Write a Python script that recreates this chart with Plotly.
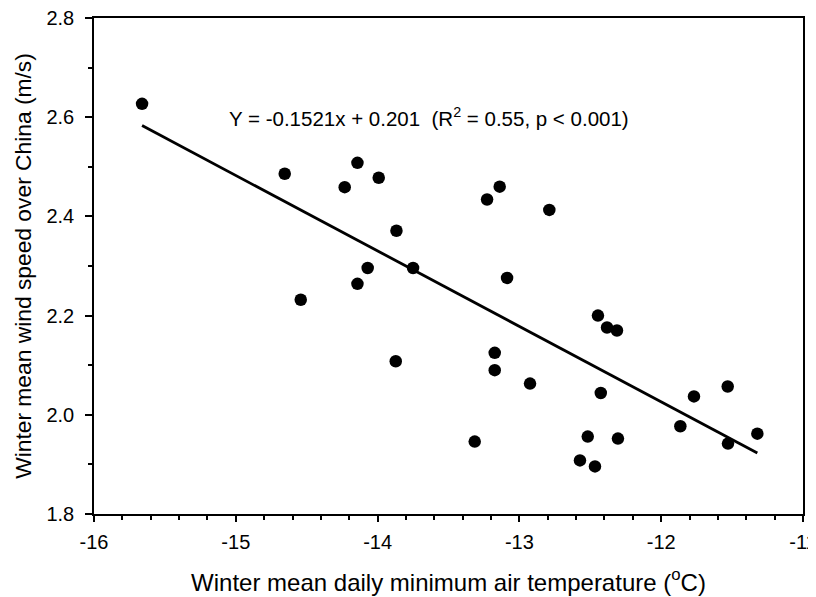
import plotly.graph_objects as go

temp = [-15.661, -14.655, -14.142, -14.232, -13.992, -13.867, -14.070, -13.750,
        -14.142, -14.542, -13.872, -13.139, -13.228, -12.789, -13.087,
        -12.446, -12.382, -12.312, -13.174, -13.174, -12.925, -12.426, -11.531,
        -11.769, -11.865, -11.322, -11.529, -13.315, -12.518, -12.305, -12.573, -12.467]
wind = [2.627, 2.486, 2.508, 2.459, 2.478, 2.371, 2.296, 2.296,
        2.264, 2.232, 2.108, 2.460, 2.434, 2.413, 2.276,
        2.200, 2.176, 2.170, 2.125, 2.090, 2.063, 2.044, 2.057,
        2.037, 1.977, 1.962, 1.942, 1.946, 1.956, 1.952, 1.908, 1.896]

x_ticks = [-16, -15, -14, -13, -12, -11]
x_ticklabels = ["-16", "-15", "-14", "-13", "-12", "-11"]
y_ticks = [1.8, 2.0, 2.2, 2.4, 2.6, 2.8]
y_ticklabels = ["1.8", "2.0", "2.2", "2.4", "2.6", "2.8"]

slope = -0.1521
intercept = 0.201
r2 = 0.55

xfit = [min(temp), max(temp)]
yfit = [slope * v + intercept for v in xfit]

FONT = "Liberation Sans, Arial, Helvetica, sans-serif"

fig = go.Figure()
fig.add_trace(go.Scatter(x=xfit, y=yfit, mode="lines",
                         line=dict(color="black", width=2.8), showlegend=False))
fig.add_trace(go.Scatter(x=temp, y=wind, mode="markers",
                         marker=dict(color="black", size=12.5), showlegend=False))

fig.add_annotation(x=-15.06, y=2.6, xref="x", yref="y", xanchor="left", yanchor="middle",
                   showarrow=False,
                   text=f"Y = {slope}x + {intercept}  (R<sup>2</sup> = {r2}, p < 0.001)",
                   font=dict(family=FONT, size=20.5, color="black"))

fig.update_layout(
    width=808, height=589,
    margin=dict(l=86, r=13, t=10, b=83),
    paper_bgcolor="white", plot_bgcolor="white",
    font=dict(family=FONT, color="black", size=20),
)
fig.update_xaxes(range=[-16, -11], tickvals=x_ticks, ticktext=x_ticklabels,
                 showgrid=False, zeroline=False, automargin=False, ticklabeloverflow="allow",
                 showline=True, linecolor="black", linewidth=1.5, mirror=True,
                 ticks="outside", ticklen=6, tickwidth=1.5, tickcolor="black",
                 ticklabelstandoff=3,
                 minor=dict(dtick=0.2, tick0=-16, ticks="outside", ticklen=4, tickwidth=1.5,
                            tickcolor="black", showgrid=False),
                 tickfont=dict(size=20),
                 title=dict(text="Winter mean daily minimum air temperature (<sup>o</sup>C)",
                            font=dict(size=24), standoff=22))
fig.update_yaxes(range=[1.8, 2.8], tickvals=y_ticks, ticktext=y_ticklabels,
                 showgrid=False, zeroline=False, automargin=False, ticklabeloverflow="allow",
                 showline=True, linecolor="black", linewidth=1.5, mirror=True,
                 ticks="outside", ticklen=7, tickwidth=1.5, tickcolor="black",
                 ticklabelstandoff=7,
                 minor=dict(dtick=0.1, tick0=1.8, ticks="outside", ticklen=4, tickwidth=1.5,
                            tickcolor="black", showgrid=False),
                 tickfont=dict(size=20),
                 title=dict(text="Winter mean wind speed over China (m/s)",
                            font=dict(size=22.8), standoff=8))

fig.write_html("out.html")
